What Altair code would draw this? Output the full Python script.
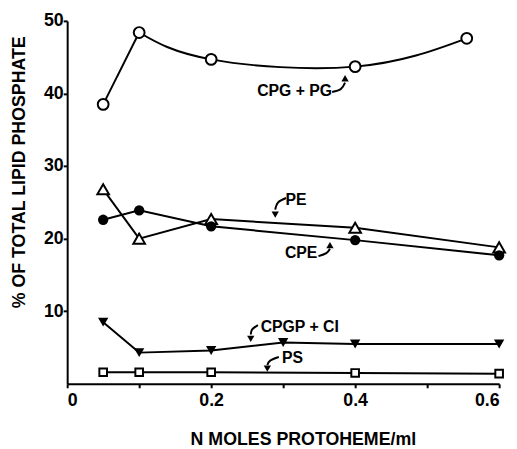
import altair as alt
import pandas as pd

# ---- data ----
x_vals = [0.05, 0.1, 0.2, 0.4, 0.6]

cpg_pg_x = [0.05, 0.1, 0.2, 0.4, 0.555]
cpg_pg_y = [38.5, 48.4, 44.7, 43.7, 47.6]

pe_y = [26.8, 20.0, 22.7, 21.5, 18.8]
cpe_y = [22.6, 23.9, 21.7, 19.8, 17.7]

cpgp_x = [0.05, 0.1, 0.2, 0.3, 0.4, 0.6]
cpgp_y = [8.5, 4.3, 4.6, 5.7, 5.5, 5.5]

ps_y = [1.6, 1.6, 1.6, 1.5, 1.4]

label_text = ["CPG + PG", "PE", "CPE", "CPGP + CI", "PS"]
label_x = [0.316, 0.318, 0.325, 0.323, 0.313]
label_y = [40.4, 25.3, 18.0, 7.8, 3.5]

arrow_id = ["a1"] * 3 + ["a2"] * 3 + ["a3"] * 3 + ["a4"] * 3 + ["a5"] * 3
arrow_x = [0.368, 0.380, 0.386,
           0.304, 0.293, 0.289,
           0.349, 0.360, 0.365,
           0.265, 0.257, 0.255,
           0.294, 0.282, 0.278]
arrow_y = [40.2, 40.6, 41.5,
           25.6, 25.0, 24.0,
           17.6, 18.0, 18.6,
           8.1, 7.5, 6.8,
           3.7, 3.2, 2.6]
head_x = [0.386, 0.289, 0.365, 0.255, 0.278]
head_y = [42.1, 23.3, 19.1, 6.2, 2.1]
head_dir = ["up", "down", "up", "down", "down"]

x_ticks = [0, 0.1, 0.2, 0.3, 0.4, 0.5, 0.6]
y_ticks = [10, 20, 30, 40, 50]

# ---- tables ----
cpg = pd.DataFrame({"x": cpg_pg_x, "y": cpg_pg_y, "i": range(len(cpg_pg_x))})
pe = pd.DataFrame({"x": x_vals, "y": pe_y})
cpe = pd.DataFrame({"x": x_vals, "y": cpe_y})
cpgp = pd.DataFrame({"x": cpgp_x, "y": cpgp_y})
ps = pd.DataFrame({"x": x_vals, "y": ps_y})
labels = pd.DataFrame({"t": label_text, "x": label_x, "y": label_y})
arrows = pd.DataFrame({"id": arrow_id, "x": arrow_x, "y": arrow_y,
                       "o": list(range(len(arrow_x)))})
heads = pd.DataFrame({"x": head_x, "y": head_y, "d": head_dir})

FONT = "Liberation Sans"

xs = alt.Scale(domain=[0, 0.6], nice=False, zero=False)
ys = alt.Scale(domain=[0, 50], nice=False)

X = alt.X("x:Q", scale=xs, axis=alt.Axis(
    values=x_ticks, title="N MOLES PROTOHEME/ml",
    labelExpr="(abs(datum.value*10 % 2) > 0.5) ? '' : (datum.value == 0 ? '0' : format(datum.value, '.1f'))",
    titleX=239, titleY=62, titleBaseline="alphabetic", titleAnchor="start", titleAlign="center",
))
Y = alt.Y("y:Q", scale=ys, axis=alt.Axis(
    values=y_ticks, title="% OF TOTAL LIPID PHOSPHATE",
    titleX=-43, titleY=153, titleBaseline="alphabetic", titleAlign="center",
))

def line(df, interp="linear"):
    return alt.Chart(df).mark_line(color="black", strokeWidth=2, interpolate=interp).encode(
        x=X, y=Y)

cpg_straight = alt.Chart(cpg).transform_filter("datum.i <= 1").mark_line(
    color="black", strokeWidth=2).encode(x=X, y=Y)
cpg_curve = alt.Chart(cpg).transform_filter("datum.i >= 1").mark_line(
    color="black", strokeWidth=2, interpolate="natural").encode(x=X, y=Y)

layers = [
    cpg_straight, cpg_curve,
    line(pe), line(cpe), line(cpgp), line(ps),
    alt.Chart(cpg).mark_point(shape="circle", size=120, filled=True, fill="white",
                              stroke="black", strokeWidth=2, opacity=1).encode(x=X, y=Y),
    alt.Chart(pe).mark_point(shape="triangle-up", size=140, filled=True, fill="white",
                             stroke="black", strokeWidth=2, opacity=1).encode(x=X, y=Y),
    alt.Chart(cpe).mark_point(shape="circle", size=110, filled=True, fill="black",
                              opacity=1).encode(x=X, y=Y),
    alt.Chart(cpgp).mark_point(shape="triangle-down", size=110, filled=True, fill="black",
                               opacity=1).encode(x=X, y=Y),
    alt.Chart(ps).mark_point(shape="square", size=60, filled=True, fill="white",
                             stroke="black", strokeWidth=2, opacity=1).encode(x=X, y=Y),
    alt.Chart(arrows).mark_line(color="black", strokeWidth=2, interpolate="cardinal").encode(
        x=X, y=Y, detail="id:N", order="o:Q"),
    alt.Chart(heads).mark_point(filled=True, fill="black", size=55, opacity=1).encode(
        x=X, y=Y,
        shape=alt.Shape("d:N", scale=alt.Scale(domain=["up", "down"],
                                               range=["triangle-up", "triangle-down"]),
                        legend=None)),
    alt.Chart(labels).mark_text(font=FONT, fontWeight="bold", fontSize=16, color="black",
                                align="center", baseline="middle").encode(
        x=X, y=Y, text="t:N"),
]

chart = alt.layer(*layers).properties(
    width=438, height=368,
    autosize=alt.AutoSizeParams(type="none"),
    padding={"left": 60, "top": 10, "right": 10, "bottom": 63},
).configure_view(stroke=None).configure_axis(
    grid=False, domainColor="black", domainWidth=2, tickColor="black", tickWidth=2,
    tickSize=4, labelFont=FONT, labelFontWeight="bold", labelFontSize=18,
    labelColor="black", titleFont=FONT, titleFontWeight="bold", titleFontSize=18,
    titleColor="black",
).configure_axisY(labelPadding=0).configure_axisX(labelPadding=4)

chart.save("out.html", embed_options={"renderer": "svg", "actions": False})
